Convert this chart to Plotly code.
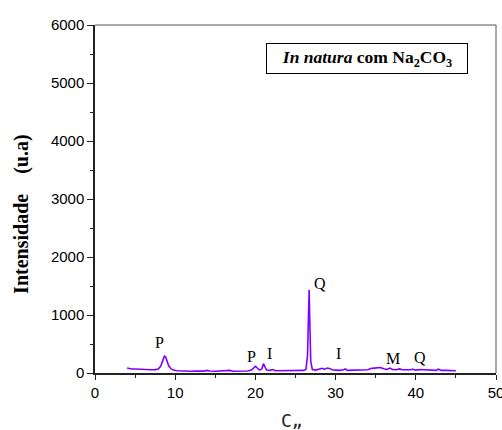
import plotly.graph_objects as go

two_theta = [4.0, 4.3, 4.6, 5.0, 5.5, 6.0, 6.5, 7.0, 7.5, 7.9, 8.2, 8.45, 8.65, 8.8, 9.0, 9.2, 9.5, 9.8,
             10.2, 10.8, 11.5, 12.0, 12.5, 13.0, 13.5, 14.0, 14.3, 15.0, 15.5, 16.0, 16.8, 17.2, 18.0,
             18.5, 19.0, 19.5, 19.8, 20.0, 20.2, 20.5, 20.8, 21.0, 21.15, 21.4, 21.8, 22.2, 22.5, 23.0,
             23.5, 24.0, 24.5, 25.0, 25.5, 26.0, 26.3, 26.5, 26.62, 26.7, 26.78, 26.9, 27.1, 27.5, 28.0,
             28.3, 28.6, 29.0, 29.3, 29.6, 30.0, 30.5, 31.0, 31.2, 31.5, 32.0, 32.5, 33.0, 33.5, 34.0,
             34.5, 35.0, 35.3, 35.6, 36.0, 36.4, 36.8, 37.1, 37.5, 38.0, 38.3, 38.7, 39.2, 39.6, 40.0,
             40.5, 41.0, 41.5, 42.0, 42.5, 42.8, 43.2, 43.8, 44.3, 45.0]
intensity = [85, 75, 70, 68, 62, 58, 55, 55, 58, 70, 120, 210, 290, 280, 200, 120, 70, 50,
             40, 35, 32, 30, 35, 30, 32, 45, 35, 30, 32, 30, 45, 30, 30,
             35, 35, 50, 90, 115, 90, 50, 70, 160, 120, 50, 45, 60, 40, 40,
             35, 40, 45, 40, 45, 45, 60, 300, 1000, 1430, 900, 200, 60, 50, 70,
             80, 65, 85, 75, 55, 50, 45, 55, 70, 45, 45, 55, 45, 55, 55,
             80, 85, 80, 95, 75, 60, 85, 60, 55, 70, 55, 50, 55, 65, 50,
             60, 55, 50, 55, 45, 65, 45, 45, 40, 38]

peak_labels = ["P", "P", "I", "Q", "I", "M", "Q"]
peak_x = [8.0, 19.5, 21.8, 28.0, 30.4, 37.1, 40.5]
peak_y = [530, 280, 340, 1540, 340, 250, 270]

SERIF = "Liberation Serif, Times New Roman, serif"

fig = go.Figure()
fig.add_trace(go.Scatter(x=two_theta, y=intensity, mode="lines",
                         line=dict(color="#8000ff", width=1.6), showlegend=False))

for lab, px, py in zip(peak_labels, peak_x, peak_y):
    fig.add_annotation(x=px, y=py, text=lab, showarrow=False,
                       xanchor="center", yanchor="middle",
                       font=dict(family=SERIF, size=16, color="black"))

fig.add_annotation(xref="paper", yref="paper", x=0.678, y=0.904,
                   xanchor="center", yanchor="middle",
                   text="<b><i>In natura</i> com Na<sub>2</sub>CO<sub>3</sub></b>",
                   showarrow=False, bordercolor="black", borderwidth=1, borderpad=3,
                   width=194, height=23, bgcolor="white",
                   font=dict(family=SERIF, size=17.5, color="black"))

fig.add_annotation(xref="paper", yref="paper", x=-0.184, y=0.455, textangle=-90,
                   xanchor="center", yanchor="middle",
                   text="<b>Intensidade&nbsp;&nbsp;&nbsp; (u.a)</b>", showarrow=False,
                   font=dict(family=SERIF, size=20, color="black"))

fig.add_annotation(xref="paper", yref="paper", x=0.491, y=-0.136,
                   xanchor="center", yanchor="middle",
                   text="C„", showarrow=False,
                   font=dict(family="DejaVu Sans Mono", size=18, color="#222"))

fig.add_shape(type="line", xref="paper", yref="paper", x0=0, x1=1, y0=1, y1=1,
              line=dict(color="#555", width=1))
fig.add_shape(type="line", xref="paper", yref="paper", x0=1, x1=1, y0=0, y1=1,
              line=dict(color="#555", width=1))

fig.update_layout(
    width=502, height=430,
    margin=dict(l=95, r=6, t=25, b=57, autoexpand=False),
    plot_bgcolor="white", paper_bgcolor="white",
    font=dict(family="Liberation Sans, Arial", size=15, color="black"),
    xaxis=dict(range=[0, 50], dtick=10, tick0=0, showgrid=False, zeroline=False,
               showline=True, linecolor="#222", linewidth=1.5, automargin=False,
               ticks="outside", ticklen=5, tickwidth=1, tickcolor="#222",
               minor=dict(dtick=5, ticks="outside", ticklen=3, tickcolor="#222"),
               tickfont=dict(size=15), ticklabeloverflow="allow"),
    yaxis=dict(range=[0, 6000], dtick=1000, tick0=0, showgrid=False, zeroline=False,
               showline=True, linecolor="#222", linewidth=1.5, automargin=False,
               ticks="outside", ticklen=6, tickwidth=1, tickcolor="#222",
               minor=dict(dtick=500, ticks="outside", ticklen=3, tickcolor="#222"),
               tickfont=dict(size=15), ticklabeloverflow="allow"),
)

fig.write_html("out.html", config={"displayModeBar": False},
               post_script="document.body.style.margin='0';")
